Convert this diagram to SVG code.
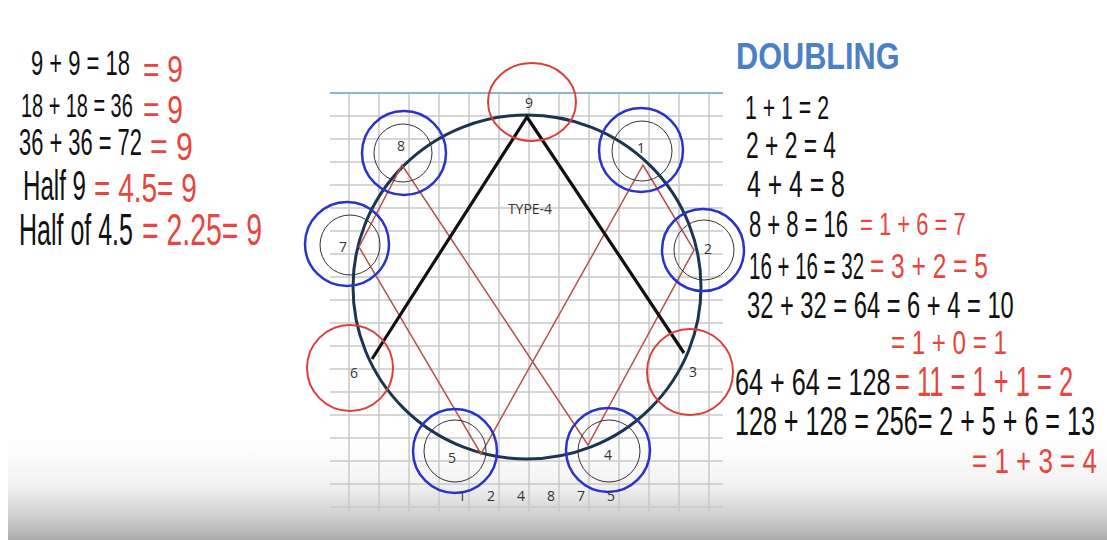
<svg xmlns="http://www.w3.org/2000/svg" width="1107" height="540" viewBox="0 0 1107 540">
<defs>
<linearGradient id="bg" x1="0" y1="0" x2="0" y2="1">
<stop offset="0" stop-color="#ffffff"/>
<stop offset="0.45" stop-color="#f2f2f2"/>
<stop offset="0.75" stop-color="#d2d2d2"/>
<stop offset="1" stop-color="#acacac"/>
</linearGradient>
</defs>
<style>
.g{stroke:#c9c9c9;stroke-width:1.5;fill:none}
.eq{font-family:"Liberation Sans",Arial,sans-serif;fill:#111}
.rd{font-family:"Liberation Sans",Arial,sans-serif;fill:#e8453c}
.nm{font-family:"Open Sans","Liberation Sans",sans-serif;font-size:14px;fill:#333;text-anchor:middle}
.bc{fill:none;stroke:#2a33c8;stroke-width:2.5}
.rc{fill:none;stroke:#d9403a;stroke-width:2}
.ic{fill:none;stroke:#333;stroke-width:1}
</style>
<rect width="1107" height="540" fill="#ffffff"/>
<rect x="8" y="440" width="1099" height="100" fill="url(#bg)"/>

<g id="grid">
<path class="g" d="M330 116H723M330 139H723M330 162H723M330 185H723M330 208H723M330 231H723M330 254H723M330 277H723M330 300H723M330 323H723M330 346H723M330 369H723M330 392H723M330 415H723M330 438H723M330 461H723M330 484H723M330 507H723"/>
<path class="g" d="M349 93V512M379 93V512M409 93V512M439 93V512M469 93V512M499 93V512M529 93V512M559 93V512M589 93V512M619 93V512M649 93V512M679 93V512M709 93V512"/>
<line x1="330" y1="93" x2="723" y2="93" stroke="#8fb2da" stroke-width="2"/>
</g>

<g id="main-circle">
<ellipse cx="527" cy="287" rx="174" ry="172" fill="none" stroke="#1b3550" stroke-width="3"/>
</g>

<g id="connectors">
<path d="M643 165L694 250L588 445L402 165L359 247L481 454Z" fill="none" stroke="#b5524c" stroke-width="1.5"/>
<path d="M372 359L527 117L684 353" fill="none" stroke="#111" stroke-width="3.2"/>
</g>

<g id="node-9"><ellipse class="rc" cx="532" cy="102" rx="44" ry="39"/><text class="nm" x="529" y="108">9</text></g>
<g id="node-1"><circle class="bc" cx="641" cy="150" r="42"/><circle class="ic" cx="642" cy="151" r="30"/><text class="nm" x="641" y="153">1</text></g>
<g id="node-2"><circle class="bc" cx="703" cy="250" r="41"/><circle class="ic" cx="704" cy="250" r="30"/><text class="nm" x="708" y="254">2</text></g>
<g id="node-3"><circle class="rc" cx="690" cy="372" r="43"/><text class="nm" x="693" y="377">3</text></g>
<g id="node-4"><circle class="bc" cx="608" cy="450" r="42"/><circle class="ic" cx="609" cy="451" r="31"/><text class="nm" x="608" y="460">4</text></g>
<g id="node-5"><circle class="bc" cx="455" cy="451" r="42"/><circle class="ic" cx="455" cy="451" r="31"/><text class="nm" x="452" y="463">5</text></g>
<g id="node-6"><circle class="rc" cx="350" cy="368" r="43"/><text class="nm" x="354" y="378">6</text></g>
<g id="node-7"><circle class="bc" cx="347" cy="244" r="42"/><circle class="ic" cx="350" cy="245" r="30"/><text class="nm" x="343" y="252">7</text></g>
<g id="node-8"><circle class="bc" cx="404" cy="153" r="42"/><circle class="ic" cx="403" cy="153" r="29"/><text class="nm" x="401" y="151">8</text></g>

<g id="labels">
<text class="nm" x="530" y="214" font-size="13">TYPE-4</text>
<text class="nm" x="462" y="501">1</text>
<text class="nm" x="491" y="501">2</text>
<text class="nm" x="521" y="501">4</text>
<text class="nm" x="551" y="501">8</text>
<text class="nm" x="581" y="501">7</text>
<text class="nm" x="611" y="501">5</text>
</g>

<g id="left-text">
<text class="eq" transform="translate(31,75) scale(1,1.59)" font-size="22">9 + 9 = 18</text>
<text class="rd" transform="translate(143,82) scale(1,1.34)" font-size="28.2">= 9</text>
<text class="eq" transform="translate(21,117) scale(1,1.68)" font-size="19.9">18 + 18 = 36</text>
<text class="rd" transform="translate(143,123) scale(1,1.39)" font-size="28.2">= 9</text>
<text class="eq" transform="translate(19,155) scale(1,1.66)" font-size="21.9">36 + 36 = 72</text>
<text class="rd" transform="translate(150,160) scale(1,1.29)" font-size="30.3">= 9</text>
<text class="eq" transform="translate(23,200) scale(1,1.74)" font-size="24.1">Half 9</text>
<text class="rd" transform="translate(94,202) scale(1,1.44)" font-size="28">= 4.5= 9</text>
<text class="eq" transform="translate(19,245) scale(1,1.79)" font-size="25">Half of 4.5</text>
<text class="rd" transform="translate(142,245) scale(1,1.57)" font-size="28.4">= 2.25= 9</text>
</g>

<g id="right-text">
<text transform="translate(736,69) scale(1,1.18)" font-family="'Liberation Sans',Arial,sans-serif" font-weight="bold" font-size="30.7" fill="#4a80c6">DOUBLING</text>
<text class="eq" transform="translate(745,119) scale(1,1.57)" font-size="21.3">1 + 1 = 2</text>
<text class="eq" transform="translate(746,158) scale(1,1.59)" font-size="22.8">2 + 2 = 4</text>
<text class="eq" transform="translate(747,197) scale(1,1.52)" font-size="24.8">4 + 4 = 8</text>
<text class="eq" transform="translate(749,237) scale(1,1.71)" font-size="22">8 + 8 = 16</text>
<text class="rd" transform="translate(860,235) scale(1,1.46)" font-size="22">= 1 + 6 = 7</text>
<text class="eq" transform="translate(749,279) scale(1,1.77)" font-size="20.5">16 + 16 = 32</text>
<text class="rd" transform="translate(870,278) scale(1,1.42)" font-size="24.5">= 3 + 2 = 5</text>
<text class="eq" transform="translate(747,318) scale(1,1.53)" font-size="23.7">32 + 32 = 64 = 6 + 4 = 10</text>
<text class="rd" transform="translate(891,354) scale(1,1.38)" font-size="24.1">= 1 + 0 = 1</text>
<text class="eq" transform="translate(735,395) scale(1,1.5)" font-size="25.2">64 + 64 = 128</text>
<text class="rd" transform="translate(895,396) scale(1,1.65)" font-size="25.5">= 11 = 1 + 1 = 2</text>
<text class="eq" transform="translate(735,435) scale(1,1.62)" font-size="25.1">128 + 128 = 256= 2 + 5 + 6 = 13</text>
<text class="rd" transform="translate(972,473) scale(1,1.34)" font-size="26">= 1 + 3 = 4</text>
</g>
</svg>
